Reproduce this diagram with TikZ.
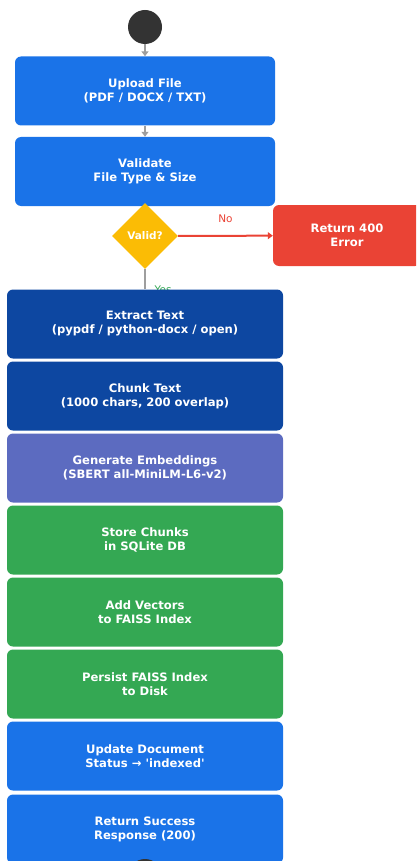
\documentclass[tikz,border=0pt]{standalone}
\usepackage{fontspec}
\setmainfont{DejaVu Sans}
\usetikzlibrary{shapes.geometric,arrows.meta}
\definecolor{gblue}{HTML}{1A73E8}
\definecolor{gnavy}{HTML}{0D47A1}
\definecolor{gindigo}{HTML}{5C6BC0}
\definecolor{ggreen}{HTML}{34A853}
\definecolor{gred}{HTML}{EA4335}
\definecolor{gyellow}{HTML}{FBBC05}
\definecolor{gdark}{HTML}{333333}
\definecolor{garrow}{HTML}{9E9E9E}

\begin{document}
\begin{tikzpicture}[x=1pt,y=-1pt,
  box/.style={rounded corners=6pt,text=white,align=center,inner sep=2pt,
    font=\bfseries\fontsize{11.6}{14}\selectfont,minimum height=69pt},
  narrow/.style={box,minimum width=260pt},
  wide/.style={box,minimum width=276pt},
  dot/.style={circle,fill=gdark,minimum size=34pt,inner sep=0pt},
  flow/.style={draw=garrow,line width=2pt,-{Triangle[length=5pt,width=7pt]}}]
\useasboundingbox (0,0) rectangle (416,861);
\clip (0,0) rectangle (416,861);

\node[dot] (start) at (145,27) {};
\node[narrow,fill=gblue] (upload) at (145,91) {Upload File\\(PDF / DOCX / TXT)};
\node[narrow,fill=gblue] (validate) at (145,171.5) {Validate\\File Type \& Size};
\node[diamond,fill=gyellow,minimum width=66pt,minimum height=66pt,inner sep=0pt,
  text=white,font=\bfseries\fontsize{10.5}{12}\selectfont] (valid) at (145,236) {Valid?};
\node[box,fill=gred,minimum width=148pt,minimum height=61pt] (err) at (347,235.5) {Return 400\\Error};

% yes label sits partly under the next box
\node[text=ggreen,font=\fontsize{10.5}{12}\selectfont] (yes) at (163,290) {Yes};

\node[wide,fill=gnavy] (extract) at (145,324) {Extract Text\\(pypdf / python-docx / open)};
\node[wide,fill=gnavy] (chunk) at (145,396) {Chunk Text\\(1000 chars, 200 overlap)};
\node[wide,fill=gindigo] (embed) at (145,468) {Generate Embeddings\\(SBERT all-MiniLM-L6-v2)};
\node[wide,fill=ggreen] (store) at (145,540) {Store Chunks\\in SQLite DB};
\node[wide,fill=ggreen] (addvec) at (145,612) {Add Vectors\\to FAISS Index};
\node[wide,fill=ggreen] (persist) at (145,684) {Persist FAISS Index\\to Disk};
\node[wide,fill=gblue] (update) at (145,756) {Update Document\\Status \textrightarrow{} \textquotesingle indexed\textquotesingle};
\node[wide,fill=gblue] (success) at (145,829) {Return Success\\Response (200)};
\node[dot] (stop) at (145,876) {};

\draw[flow] (start) -- (upload);
\draw[flow] (upload) -- (validate);
\draw[flow,draw=gred] (valid) -- node[above=9pt,text=gred,font=\fontsize{10.5}{12}\selectfont] (no) {No} (err);
\draw[draw=garrow,line width=2pt] (valid) -- (extract);
\end{tikzpicture}
\end{document}
